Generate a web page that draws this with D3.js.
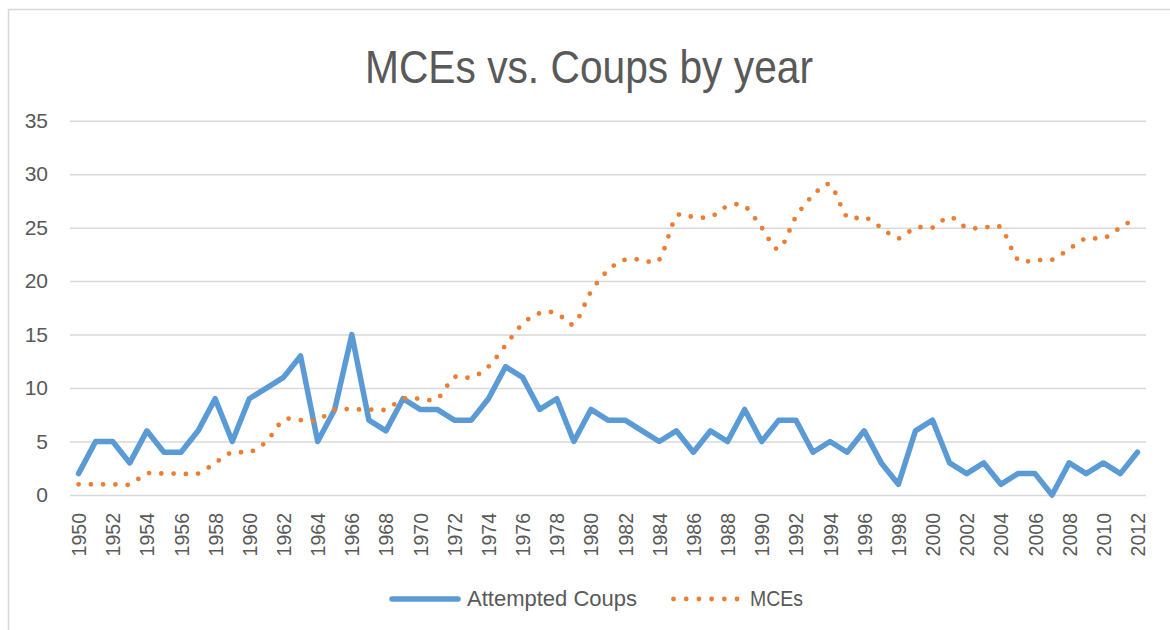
<!DOCTYPE html>
<html>
<head>
<meta charset="utf-8">
<script src="https://cdn.jsdelivr.net/npm/d3@7/dist/d3.min.js"></script>
<style>
  html, body { margin: 0; padding: 0; background: #fff; }
  svg { display: block; }
  text { font-family: "Liberation Sans", Arial, sans-serif; fill: #595959; }
</style>
</head>
<body>
<svg id="chart" width="1170" height="630"></svg>
<script>
const years = [1950,1951,1952,1953,1954,1955,1956,1957,1958,1959,
  1960,1961,1962,1963,1964,1965,1966,1967,1968,1969,
  1970,1971,1972,1973,1974,1975,1976,1977,1978,1979,
  1980,1981,1982,1983,1984,1985,1986,1987,1988,1989,
  1990,1991,1992,1993,1994,1995,1996,1997,1998,1999,
  2000,2001,2002,2003,2004,2005,2006,2007,2008,2009,
  2010,2011,2012];

const attemptedCoups = [2,5,5,3,6,4,4,6,9,5,
  9,10,11,13,5,8,15,7,6,9,
  8,8,7,7,9,12,11,8,9,5,
  8,7,7,6,5,6,4,6,5,8,
  5,7,7,4,5,4,6,3,1,6,
  7,3,2,3,1,2,2,0,3,2,
  3,2,4];

const mces = [1,1,1,1,2,2,2,2,3,4,
  4,5,7,7,7,8,8,8,8,9,
  9,9,11,11,12,14,16,17,17,16,
  19,21,22,22,22,26,26,26,27,27,
  25,23,26,28,29,26,26,25,24,25,
  25,26,25,25,25,22,22,22,23,24,
  24,25,26];

const xTickLabels = [1950,1952,1954,1956,1958,1960,1962,1964,1966,1968,
  1970,1972,1974,1976,1978,1980,1982,1984,1986,1988,
  1990,1992,1994,1996,1998,2000,2002,2004,2006,2008,2010,2012];
const yTickValues = [0,5,10,15,20,25,30,35];

const titleText = "MCEs vs. Coups by year";
const seriesNames = ["Attempted Coups", "MCEs"];
const colors = ["#5B9BD5", "#ED7D31"];

(function () {
const svg = d3.select("#chart");

// chart border
svg.append("rect")
  .attr("x", 8.5).attr("y", 9.5)
  .attr("width", 1200).attr("height", 660)
  .attr("fill", "none").attr("stroke", "#d9d9d9").attr("stroke-width", 1.5);

const plotLeft = 70, plotRight = 1146, plotTop = 120.7, plotBottom = 495;

const x = d3.scalePoint().domain(years).range([plotLeft, plotRight]).padding(0.5);
const y = d3.scaleLinear().domain([0, 35]).range([plotBottom, plotTop]);

// title
svg.append("text")
  .attr("x", 589).attr("y", 83)
  .attr("text-anchor", "middle")
  .attr("font-size", 47)
  .attr("textLength", 448)
  .attr("lengthAdjust", "spacingAndGlyphs")
  .text(titleText);

// y axis with gridlines
const yAxis = svg.append("g")
  .attr("transform", `translate(${plotLeft},0)`)
  .call(d3.axisLeft(y).tickValues(yTickValues).tickSize(-(plotRight - plotLeft)).tickPadding(22));
yAxis.select(".domain").remove();
yAxis.selectAll(".tick line").attr("stroke", "#d9d9d9").attr("stroke-width", 1.5);
yAxis.selectAll(".tick text")
  .attr("font-size", 21)
  .attr("fill", "#595959")
  .style("font-family", "'Liberation Sans', Arial, sans-serif");

// x axis labels
const xAxis = svg.append("g")
  .attr("transform", `translate(0,${plotBottom})`)
  .call(d3.axisBottom(x).tickValues(xTickLabels).tickSize(0));
xAxis.select(".domain").remove();
xAxis.selectAll(".tick text")
  .attr("font-size", 19.5)
  .attr("fill", "#595959")
  .style("font-family", "'Liberation Sans', Arial, sans-serif")
  .attr("text-anchor", "end")
  .attr("transform", "rotate(-90)")
  .attr("x", -18)
  .attr("y", 0)
  .attr("dy", "0.36em");

// Attempted coups line
const lineStraight = d3.line()
  .x((d, i) => x(years[i]))
  .y(d => y(d));

svg.append("path")
  .datum(attemptedCoups)
  .attr("d", lineStraight)
  .attr("fill", "none")
  .attr("stroke", colors[0])
  .attr("stroke-width", 5.5)
  .attr("stroke-linejoin", "round")
  .attr("stroke-linecap", "round");

// MCEs smoothed dotted line
const lineSmooth = d3.line()
  .x((d, i) => x(years[i]))
  .y(d => y(d))
  .curve(d3.curveCardinal.tension(0));

svg.append("path")
  .datum(mces)
  .attr("d", lineSmooth)
  .attr("fill", "none")
  .attr("stroke", colors[1])
  .attr("stroke-width", 4.8)
  .attr("stroke-linecap", "round")
  .attr("stroke-dasharray", "0 12.3");

// legend
const legend = svg.append("g");
legend.append("line")
  .attr("x1", 392).attr("x2", 458).attr("y1", 599).attr("y2", 599)
  .attr("stroke", colors[0]).attr("stroke-width", 5.5).attr("stroke-linecap", "round");
legend.append("text")
  .attr("x", 467).attr("y", 606)
  .attr("font-size", 22)
  .text(seriesNames[0]);
legend.append("line")
  .attr("x1", 673.5).attr("x2", 737).attr("y1", 599).attr("y2", 599)
  .attr("stroke", colors[1]).attr("stroke-width", 4.8).attr("stroke-linecap", "round")
  .attr("stroke-dasharray", "0 12.7");
legend.append("text")
  .attr("x", 750).attr("y", 606)
  .attr("font-size", 22)
  .attr("textLength", 53)
  .attr("lengthAdjust", "spacingAndGlyphs")
  .text(seriesNames[1]);
})();
</script>
</body>
</html>
